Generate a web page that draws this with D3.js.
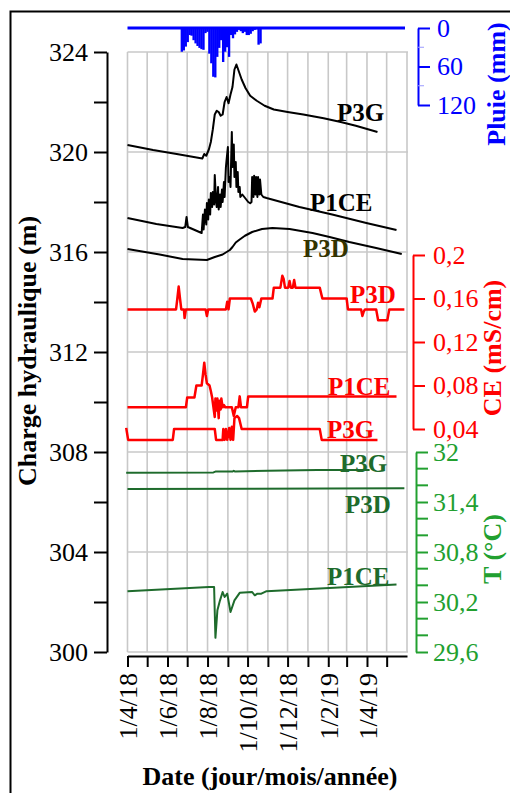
<!DOCTYPE html>
<html><head><meta charset="utf-8">
<script src="https://cdn.jsdelivr.net/npm/d3@7"></script>
<style>
body{margin:0;background:#fff}
svg text{font-family:"Liberation Serif","Times New Roman",serif}
</style>
</head><body>
<svg id="c" width="510" height="793"></svg>
<script>
// ---------- DATA ----------
const xTickMonths = ["2018-04-01","2018-05-01","2018-06-01","2018-07-01","2018-08-01","2018-09-01","2018-10-01","2018-11-01","2018-12-01","2019-01-01","2019-02-01","2019-03-01","2019-04-01","2019-05-01"];
const xLabelMonths = ["2018-04-01","2018-06-01","2018-08-01","2018-10-01","2018-12-01","2019-02-01","2019-04-01"];
const headTicks = [300,302,304,306,308,310,312,314,316,318,320,322,324];
const headLabels = [300,304,308,312,316,320,324];
const rainTicks = [0,60,120];
const rainMinor = [30,90];
const ceTicks = [0.04,0.08,0.12,0.16,0.2];
const tTicksMajor = [29.6,30.2,30.8,31.4,32];
const tTicksMinor = [29.8,30.0,30.4,30.6,31.0,31.2,31.6,31.8];

// rain (mm), one bar per 3 days starting 21/6/18
const rainStart = "2018-06-21";
const rainStepDays = 3;
const rainMm = [37,35,29,22,11,12,19,24,28,31,33,34,8,6,40,55,76,77,45,31,19,53,37,30,45,11,16,10,6,3,5,8,6,11,11,9,5,3,2,26,24];

const headP3G = [["2018-04-01",320.28],["2018-05-10",320.08],["2018-06-15",319.92],["2018-07-24",319.74],["2018-07-27",319.92],["2018-07-30",319.85],["2018-08-03",320.1],["2018-08-06",320.4],["2018-08-09",320.9],["2018-08-12",321.5],["2018-08-15",321.65],["2018-08-18",321.6],["2018-08-21",321.45],["2018-08-24",321.5],["2018-08-27",322.0],["2018-08-30",322.2],["2018-09-02",321.95],["2018-09-05",322.3],["2018-09-08",322.6],["2018-09-11",323.3],["2018-09-14",323.5],["2018-09-18",323.2],["2018-09-22",322.9],["2018-09-28",322.55],["2018-10-05",322.25],["2018-10-15",322.05],["2018-10-27",321.85],["2018-11-10",321.7],["2018-12-01",321.6],["2018-12-25",321.5],["2019-01-25",321.35],["2019-02-20",321.2],["2019-03-15",321.05],["2019-04-17",320.8]];

const headP1CE = [["2018-04-01",317.36],["2018-05-15",317.12],["2018-06-24",316.96],["2018-06-28",317.0],["2018-06-30",317.4],["2018-07-02",317.0],["2018-07-23",316.76],
["2018-07-25",317.5],["2018-07-26",316.9],["2018-07-28",317.7],["2018-07-30",317.1],["2018-07-31",317.96],["2018-08-02",317.3],["2018-08-03",318.1],["2018-08-05",317.5],["2018-08-06",318.36],["2018-08-08",317.8],["2018-08-09",318.4],["2018-08-11",317.9],["2018-08-12",319.08],["2018-08-14",318.0],["2018-08-15",317.8],["2018-08-17",318.6],["2018-08-18",317.7],["2018-08-20",318.3],["2018-08-21",317.8],["2018-08-23",318.5],["2018-08-24",318.0],["2018-08-26",318.8],["2018-08-27",318.2],["2018-08-29",319.4],["2018-08-30",319.68],["2018-09-01",320.2],["2018-09-02",318.8],["2018-09-04",319.0],["2018-09-05",318.6],["2018-09-07",320.8],["2018-09-08",319.4],["2018-09-10",320.3],["2018-09-11",319.0],["2018-09-13",319.6],["2018-09-14",318.6],["2018-09-16",319.2],["2018-09-17",318.4],["2018-09-19",318.6],["2018-09-20",318.2],["2018-09-23",318.3],["2018-09-26",318.2],["2018-09-29",318.1],["2018-10-02",318.0],["2018-10-05",317.95],["2018-10-07",318.0],["2018-10-08",319.0],["2018-10-10",318.2],["2018-10-11",319.05],["2018-10-13",318.3],["2018-10-14",319.0],["2018-10-16",318.2],["2018-10-17",319.0],["2018-10-19",318.3],["2018-10-20",318.9],["2018-10-22",318.3],["2018-10-25",318.2],["2018-10-30",318.16],
["2018-12-19",317.8],["2019-02-07",317.5],["2019-03-31",317.16],["2019-05-16",316.88]];

const headP3D = [["2018-04-01",316.12],["2018-05-20",315.9],["2018-06-24",315.72],["2018-07-31",315.68],["2018-08-12",315.8],["2018-08-24",315.9],["2018-09-04",316.08],["2018-09-08",316.2],["2018-09-13",316.38],["2018-09-19",316.5],["2018-09-27",316.65],["2018-10-08",316.8],["2018-10-23",316.92],["2018-11-08",316.96],["2018-12-04",316.92],["2019-01-08",316.76],["2019-02-03",316.6],["2019-03-05",316.4],["2019-04-15",316.16],["2019-05-24",315.92]];

const ceP3D = [["2018-04-01",0.15],["2018-06-14",0.15],["2018-06-16",0.16],["2018-06-18",0.171],["2018-06-20",0.16],["2018-06-22",0.15],["2018-06-26",0.15],["2018-06-27",0.142],["2018-06-29",0.15],["2018-07-29",0.15],["2018-07-31",0.144],["2018-08-02",0.15],["2018-08-29",0.15],["2018-08-31",0.157],["2018-09-02",0.15],["2018-09-04",0.16],["2018-10-06",0.16],["2018-10-09",0.155],["2018-10-12",0.148],["2018-10-15",0.15],["2018-10-17",0.156],["2018-10-19",0.152],["2018-10-22",0.16],["2018-11-08",0.16],["2018-11-10",0.17],["2018-11-20",0.17],["2018-11-23",0.181],["2018-11-25",0.178],["2018-11-27",0.17],["2018-12-02",0.17],["2018-12-04",0.176],["2018-12-06",0.17],["2018-12-09",0.17],["2018-12-11",0.177],["2018-12-13",0.17],["2019-01-19",0.17],["2019-01-23",0.16],["2019-03-01",0.16],["2019-03-03",0.15],["2019-03-23",0.15],["2019-03-25",0.144],["2019-03-27",0.148],["2019-03-29",0.15],["2019-04-15",0.15],["2019-04-18",0.14],["2019-05-02",0.14],["2019-05-05",0.15],["2019-05-28",0.15]];

const ceP1CE = [["2018-04-01",0.06],["2018-06-29",0.06],["2018-07-01",0.069],["2018-07-12",0.069],["2018-07-15",0.08],["2018-07-23",0.08],["2018-07-25",0.09],["2018-07-27",0.101],["2018-07-29",0.09],["2018-07-31",0.082],["2018-08-04",0.08],["2018-08-06",0.075],["2018-08-08",0.069],["2018-08-10",0.06],["2018-08-12",0.051],["2018-08-13",0.068],["2018-08-15",0.057],["2018-08-16",0.068],["2018-08-18",0.05],["2018-08-19",0.066],["2018-08-21",0.058],["2018-08-22",0.068],["2018-08-24",0.06],["2018-08-26",0.062],["2018-08-28",0.06],["2018-09-07",0.06],["2018-09-10",0.052],["2018-09-13",0.06],["2018-09-17",0.06],["2018-09-19",0.07],["2018-09-21",0.06],["2018-09-30",0.06],["2018-10-02",0.07],["2019-05-16",0.07]];

const ceP3G = [["2018-03-30",0.041],["2018-04-02",0.03],["2018-06-09",0.03],["2018-06-11",0.04],["2018-08-12",0.04],["2018-08-14",0.03],["2018-08-24",0.03],["2018-08-25",0.04],["2018-08-27",0.03],["2018-08-29",0.04],["2018-08-31",0.03],["2018-09-03",0.041],["2018-09-05",0.03],["2018-09-07",0.042],["2018-09-09",0.03],["2018-09-11",0.05],["2018-09-15",0.052],["2018-09-18",0.05],["2018-09-22",0.04],["2019-01-19",0.04],["2019-01-22",0.03],["2019-04-17",0.03]];

const tP3G = [["2018-03-30",31.75],["2018-08-10",31.755],["2018-08-13",31.765],["2018-09-08",31.765],["2018-09-10",31.775],["2018-09-12",31.765],["2018-11-01",31.775],["2019-01-15",31.785],["2019-04-05",31.785]];
const tP3D = [["2018-04-01",31.555],["2018-10-01",31.56],["2019-05-28",31.565]];
const tP1CE = [["2018-04-01",30.33],["2018-08-03",30.38],["2018-08-11",30.38],["2018-08-13",29.77],["2018-08-16",30.1],["2018-08-20",30.22],["2018-08-24",30.32],["2018-08-27",30.26],["2018-08-31",30.3],["2018-09-05",30.08],["2018-09-11",30.22],["2018-09-19",30.31],["2018-10-08",30.32],["2018-10-12",30.28],["2018-10-16",30.3],["2018-10-22",30.3],["2018-10-30",30.33],["2019-05-16",30.41]];

// ---------- CHART ----------
const parse = d3.timeParse("%Y-%m-%d");
const svg = d3.select("#c");
const BLUE = "#0000ff", RED = "#ff0000", GREEN_AX = "#22a030", GREEN_LN = "#1e6b2c";

const x = d3.scaleTime().domain([parse("2018-04-01"), parse("2019-06-01")]).range([127.5, 407]);
const yH = d3.scaleLinear().domain([300,324]).range([652,52]);
const yR = d3.scaleLinear().domain([0,120]).range([28,105]);
const yC = d3.scaleLinear().domain([0.04,0.2]).range([429,255]);
const yT = d3.scaleLinear().domain([29.6,32]).range([652,452]);

// outer frame
svg.append("rect").attr("x",10.5).attr("y",11.5).attr("width",620).attr("height",900)
  .attr("fill","none").attr("stroke","#000").attr("stroke-width",2);

// grid
const grid = svg.append("g").attr("stroke","#c8c8c8").attr("stroke-width",1.6);
grid.selectAll("line.v").data(d3.timeMonth.range(parse("2018-04-01"), parse("2019-06-02")))
  .join("line").attr("x1",d=>x(d)).attr("x2",d=>x(d)).attr("y1",yH(324)).attr("y2",yH(300));
grid.selectAll("line.h").data(headLabels)
  .join("line").attr("class","h").attr("x1",x.range()[0]).attr("x2",x.range()[1]+1).attr("y1",d=>yH(d)).attr("y2",d=>yH(d));

// rain bars
const r0 = parse(rainStart);
const rainData = rainMm.map((v,i)=>({d:d3.timeDay.offset(r0,i*rainStepDays), v}));
svg.append("g").selectAll("rect").data(rainData).join("rect")
  .attr("x",d=>x(d.d)).attr("width",d=>x(d3.timeDay.offset(d.d,rainStepDays))-x(d.d)+0.4)
  .attr("y",yR(0)).attr("height",d=>yR(d.v)-yR(0)).attr("fill",BLUE);
svg.append("line").attr("x1",x.range()[0]).attr("x2",405).attr("y1",yR(0)).attr("y2",yR(0))
  .attr("stroke",BLUE).attr("stroke-width",3);

// lines
function drawLine(data, y, color, w){
  const pts = data.map(d=>({d:parse(d[0]), v:d[1]}));
  svg.append("path").datum(pts).attr("fill","none").attr("stroke",color).attr("stroke-width",w)
    .attr("stroke-linejoin","round")
    .attr("d", d3.line().x(p=>x(p.d)).y(p=>y(p.v)));
}
drawLine(headP3G, yH, "#000", 2);
drawLine(headP1CE, yH, "#000", 2);
drawLine(headP3D, yH, "#000", 2);
drawLine(ceP3D, yC, RED, 2.5);
drawLine(ceP1CE, yC, RED, 2.5);
drawLine(ceP3G, yC, RED, 2.5);
drawLine(tP3G, yT, GREEN_LN, 2);
drawLine(tP3D, yT, GREEN_LN, 2);
drawLine(tP1CE, yT, GREEN_LN, 2);

// series labels
const labels = [
  ["P3G",337,121,"#000"],["P1CE",310,211,"#000"],["P3D",303,257,"#333300"],
  ["P3D",350,303,RED],["P1CE",328,395,RED],["P3G",327,438,RED],
  ["P3G",340,472,GREEN_LN],["P3D",345,513,GREEN_LN],["P1CE",327,585,GREEN_LN]
];
svg.append("g").selectAll("text").data(labels).join("text")
  .attr("x",d=>d[1]).attr("y",d=>d[2]).attr("fill",d=>d[3])
  .attr("font-size",25).attr("font-weight","bold").text(d=>d[0]);

// left axis
const fmtH = d => headLabels.includes(d) ? d : "";
const axL = svg.append("g").attr("transform","translate(107,0)")
  .call(d3.axisLeft(yH).tickValues(headTicks).tickFormat(fmtH).tickSize(13).tickSizeOuter(0).tickPadding(6));
axL.select(".domain").attr("stroke-width",2);
axL.selectAll(".tick line").attr("stroke-width",2);
axL.selectAll("text").attr("font-size",26).attr("font-family","Liberation Serif").attr("fill","#000");

// bottom axis
const fmtD = d => xLabelMonths.some(s=>+parse(s)===+d) ? `${d.getDate()}/${d.getMonth()+1}/${String(d.getFullYear()).slice(2)}` : "";
const axB = svg.append("g").attr("transform","translate(0,656)")
  .call(d3.axisBottom(x).tickValues(xTickMonths.map(parse)).tickFormat(fmtD).tickSize(11).tickSizeOuter(0));
axB.select(".domain").attr("stroke-width",2);
axB.selectAll(".tick line").attr("stroke-width",2);
axB.selectAll("text").attr("font-size",26).attr("font-family","Liberation Serif").attr("fill","#000")
  .attr("transform","rotate(-90)").attr("text-anchor","end").attr("x",-17).attr("y",0).attr("dy","0.35em");

// rain axis
const axR = svg.append("g").attr("transform","translate(418,0)")
  .call(d3.axisRight(yR).tickValues(rainTicks).tickSize(12).tickSizeOuter(0).tickPadding(7));
axR.select(".domain").attr("stroke",BLUE).attr("stroke-width",2);
axR.selectAll(".tick line").attr("stroke",BLUE).attr("stroke-width",2);
axR.selectAll("text").attr("font-size",26).attr("font-family","Liberation Serif").attr("fill",BLUE);
axR.selectAll("line.mn").data(rainMinor).join("line").attr("class","mn")
  .attr("x1",0).attr("x2",6).attr("y1",d=>yR(d)).attr("y2",d=>yR(d)).attr("stroke","#9a9aff").attr("stroke-width",1);

// CE axis
const fmtC = d => String(+d.toFixed(2)).replace(".",",");
const axC = svg.append("g").attr("transform","translate(413,0)")
  .call(d3.axisRight(yC).tickValues(ceTicks).tickFormat(fmtC).tickSize(12).tickSizeOuter(0).tickPadding(8));
axC.select(".domain").attr("stroke",RED).attr("stroke-width",2);
axC.selectAll(".tick line").attr("stroke",RED).attr("stroke-width",2);
axC.selectAll("text").attr("font-size",26).attr("font-family","Liberation Serif").attr("fill",RED);

// T axis
const fmtT = d => String(+d.toFixed(1)).replace(".",",");
const axT = svg.append("g").attr("transform","translate(416,0)")
  .call(d3.axisRight(yT).tickValues(tTicksMajor).tickFormat(fmtT).tickSize(12).tickSizeOuter(0).tickPadding(5));
axT.select(".domain").attr("stroke",GREEN_AX).attr("stroke-width",2);
axT.selectAll(".tick line").attr("stroke",GREEN_AX).attr("stroke-width",2);
axT.selectAll("text").attr("font-size",26).attr("font-family","Liberation Serif").attr("fill",GREEN_AX);
axT.selectAll("line.mn").data(tTicksMinor).join("line").attr("class","mn")
  .attr("x1",0).attr("x2",12).attr("y1",d=>yT(d)).attr("y2",d=>yT(d)).attr("stroke",GREEN_AX).attr("stroke-width",2);

// titles
function vTitle(txt, cx, cy, color){
  svg.append("text").attr("transform",`translate(${cx},${cy}) rotate(-90)`)
    .attr("text-anchor","middle").attr("font-size",26).attr("font-weight","bold")
    .attr("fill",color).text(txt);
}
vTitle("Charge hydraulique (m)", 36, 351, "#000");
vTitle("Pluie (mm)", 505, 84, BLUE);
vTitle("CE (mS/cm)", 501, 348, RED);
vTitle("T (°C)", 501, 549, GREEN_AX);
svg.append("text").attr("x",270).attr("y",785).attr("text-anchor","middle")
  .attr("font-size",26).attr("font-weight","bold").text("Date (jour/mois/année)");
</script>
</body></html>
